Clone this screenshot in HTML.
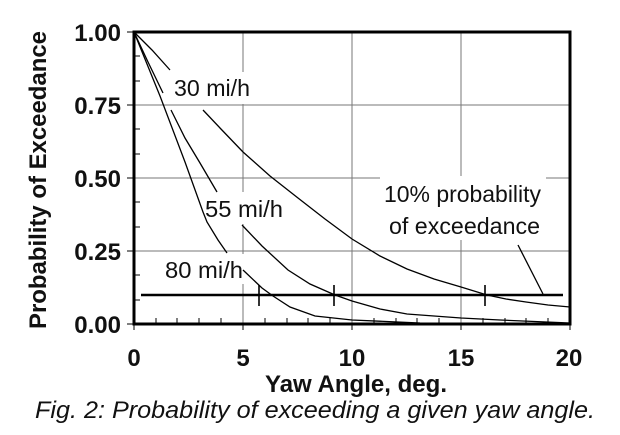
<!DOCTYPE html>
<html><head><style>
html,body{margin:0;padding:0;background:#fff;}
svg{display:block;}
text{font-family:"Liberation Sans",Arial,sans-serif;fill:#111;}
</style></head><body>
<svg width="620" height="435" viewBox="0 0 620 435" xmlns="http://www.w3.org/2000/svg">
<rect width="620" height="435" fill="#fff"/>
<g stroke="#777" stroke-width="1">
<line x1="243" y1="32" x2="243" y2="324"/>
<line x1="352" y1="32" x2="352" y2="324"/>
<line x1="461" y1="32" x2="461" y2="324"/>
<line x1="134" y1="105" x2="570" y2="105"/>
<line x1="134" y1="178" x2="570" y2="178"/>
<line x1="134" y1="251" x2="570" y2="251"/>
</g>
<g fill="#fff">
<rect x="170" y="72" width="84" height="32"/>
<rect x="202" y="192" width="84" height="32"/>
<rect x="162" y="254" width="84" height="30"/>
<rect x="380" y="176" width="166" height="64"/>
</g>
<g stroke="#000" stroke-width="1">
<line x1="134" y1="56" x2="140" y2="56"/><line x1="134" y1="81" x2="140" y2="81"/>
<line x1="134" y1="129" x2="140" y2="129"/><line x1="134" y1="154" x2="140" y2="154"/>
<line x1="134" y1="202" x2="140" y2="202"/><line x1="134" y1="227" x2="140" y2="227"/>
<line x1="134" y1="275" x2="140" y2="275"/><line x1="134" y1="300" x2="140" y2="300"/>
<line x1="127" y1="32" x2="134" y2="32"/><line x1="127" y1="105" x2="134" y2="105"/>
<line x1="127" y1="178" x2="134" y2="178"/><line x1="127" y1="251" x2="134" y2="251"/>
<line x1="127" y1="324" x2="134" y2="324"/>
<line x1="156" y1="318" x2="156" y2="324"/><line x1="177" y1="318" x2="177" y2="324"/>
<line x1="199" y1="318" x2="199" y2="324"/><line x1="221" y1="318" x2="221" y2="324"/>
<line x1="265" y1="318" x2="265" y2="324"/><line x1="287" y1="318" x2="287" y2="324"/>
<line x1="308" y1="318" x2="308" y2="324"/><line x1="330" y1="318" x2="330" y2="324"/>
<line x1="374" y1="318" x2="374" y2="324"/><line x1="396" y1="318" x2="396" y2="324"/>
<line x1="417" y1="318" x2="417" y2="324"/><line x1="439" y1="318" x2="439" y2="324"/>
<line x1="483" y1="318" x2="483" y2="324"/><line x1="505" y1="318" x2="505" y2="324"/>
<line x1="526" y1="318" x2="526" y2="324"/><line x1="548" y1="318" x2="548" y2="324"/>
<line x1="134" y1="324" x2="134" y2="330"/><line x1="243" y1="324" x2="243" y2="330"/>
<line x1="352" y1="324" x2="352" y2="330"/><line x1="461" y1="324" x2="461" y2="330"/>
<line x1="570" y1="324" x2="570" y2="330"/>
</g>
<g fill="none" stroke="#000" stroke-width="1.3">
<polyline points="134,32 152,50 170,70"/>
<polyline points="203,110 220,128 243,152 270,176 298,198 325,219 352,239 380,256 407,269 434,279 461,287 487,295 506,299 526,302 548,305 570,307"/>
<polyline points="134,32 148,62 163,93"/>
<polyline points="171,110 185,138 200,163 217,192"/>
<polyline points="242,225 262,246 288,270 310,284 335,295 352,301 380,309 407,314 434,316 461,318 500,320 570,323"/>
<polyline points="134,32 160,96 185,162 203,212 207,222 218,240 227,253"/>
<polyline points="243,270 262,288 273,296 290,307 315,316 352,320 420,323 570,324"/>
<line x1="518" y1="245" x2="543" y2="294"/>
</g>
<g stroke="#000">
<line x1="141" y1="295" x2="563" y2="295" stroke-width="2.6"/>
<line x1="259" y1="285" x2="259" y2="306" stroke-width="1.6"/>
<line x1="334" y1="285" x2="334" y2="306" stroke-width="1.6"/>
<line x1="485" y1="285" x2="485" y2="306" stroke-width="1.6"/>
</g>
<rect x="134" y="32" width="436" height="292" stroke="#000" stroke-width="3" fill="none"/>
<g font-size="23">
<text x="174" y="96" textLength="76" lengthAdjust="spacingAndGlyphs">30 mi/h</text>
<text x="205" y="217" textLength="78" lengthAdjust="spacingAndGlyphs">55 mi/h</text>
<text x="165" y="278" textLength="78" lengthAdjust="spacingAndGlyphs">80 mi/h</text>
<text x="384" y="202" textLength="157" lengthAdjust="spacingAndGlyphs">10% probability</text>
<text x="389" y="234" textLength="151" lengthAdjust="spacingAndGlyphs">of exceedance</text>
</g>
<g font-size="24" font-weight="bold" text-anchor="end">
<text x="121" y="41">1.00</text>
<text x="121" y="114">0.75</text>
<text x="121" y="187">0.50</text>
<text x="121" y="260">0.25</text>
<text x="121" y="333">0.00</text>
</g>
<g font-size="24" font-weight="bold" text-anchor="middle">
<text x="134" y="366">0</text>
<text x="243" y="366">5</text>
<text x="352" y="366">10</text>
<text x="461" y="366">15</text>
<text x="569" y="366">20</text>
<text x="356" y="392" textLength="182" lengthAdjust="spacingAndGlyphs">Yaw Angle, deg.</text>
<text transform="translate(46,180) rotate(-90)" textLength="298" lengthAdjust="spacingAndGlyphs">Probability of Exceedance</text>
</g>
<text x="35" y="418" font-size="24" font-style="italic" textLength="560" lengthAdjust="spacingAndGlyphs">Fig. 2:  Probability of exceeding a given yaw angle.</text>
</svg>
</body></html>
